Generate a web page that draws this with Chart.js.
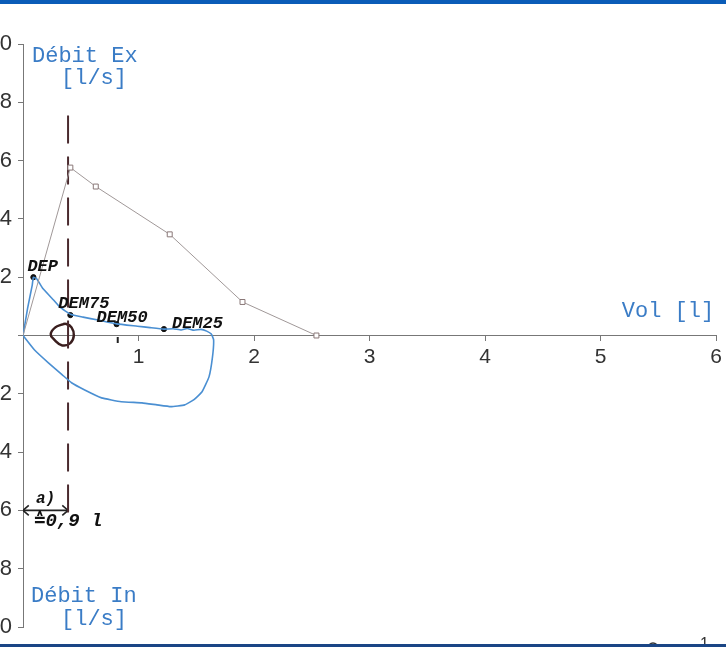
<!DOCTYPE html>
<html><head><meta charset="utf-8">
<script src="https://cdn.jsdelivr.net/npm/chart.js@4"></script>
<style>html,body{margin:0;padding:0;background:#fff;overflow:hidden}canvas{display:block}</style>
</head><body>
<canvas id="c" width="726" height="647"></canvas>
<script>
// Predicted expiratory curve (squares)
const predVol  = [0, 0.41, 0.63, 1.27, 1.90, 2.54];
const predFlow = [0, 5.76, 5.11, 3.47, 1.15, 0];

// Measured loop: expiration (positive flow) then inspiration (negative flow)
const expVol  = [0, 0.04, 0.08, 0.09, 0.12, 0.17, 0.25, 0.32, 0.41, 0.52, 0.65, 0.81, 0.99, 1.10, 1.22, 1.30, 1.37, 1.42, 1.48, 1.54, 1.59, 1.63];
const expFlow = [0, 0.94, 1.73, 2.00, 1.94, 1.62, 1.28, 0.97, 0.73, 0.63, 0.53, 0.40, 0.32, 0.27, 0.22, 0.23, 0.19, 0.24, 0.18, 0.21, 0.15, 0.05];
const inspVol  = [1.65, 1.64, 1.61, 1.55, 1.48, 1.40, 1.28, 1.16, 1.03, 0.85, 0.68, 0.53, 0.42, 0.34, 0.22, 0.10, 0];
const inspFlow = [-0.15, -0.74, -1.42, -1.93, -2.20, -2.38, -2.44, -2.38, -2.31, -2.27, -2.14, -1.86, -1.62, -1.35, -0.94, -0.50, 0];

// Marked points
const demLabels = ['DEP', 'DEM75', 'DEM50', 'DEM25'];
const demVol  = [0.09, 0.41, 0.81, 1.22];
const demFlow = [2.00, 0.70, 0.39, 0.22];

// Hand annotations
const markVol = 0.39;                 // dashed vertical line / arrow end
const markFlowTop = 7.55, markFlowBottom = -6.15;
const arrowFlow = -6;
const arrowText = '≙0,9 l';
const loopVol  = [0.34, 0.28, 0.24, 0.27, 0.34, 0.41, 0.44, 0.42, 0.37, 0.34];
const loopFlow = [0.38, 0.28, 0.05, -0.14, -0.34, -0.26, 0.00, 0.28, 0.40, 0.38];
const tickMarkVol = [0.82, 0.82];
const tickMarkFlow = [-0.05, -0.26];

// Axes
const xMin = 0, xMax = 6, xStep = 1;
const yMin = -10, yMax = 10, yStep = 2;

const pts = (xs, ys) => xs.map((x, i) => ({x: x, y: ys[i]}));

const annot = {
  id: 'annot',
  afterDatasetsDraw(chart) {
    const ctx = chart.ctx, xs = chart.scales.x, ys = chart.scales.y, ca = chart.chartArea;
    ctx.save();
    ctx.fillStyle = '#111';
    ctx.textAlign = 'left';
    ctx.textBaseline = 'alphabetic';
    ctx.font = 'italic bold 17px "Liberation Mono", monospace';
    const offs = [[-6, -6], [-12, -7], [-20, -2], [8, -1]];
    demLabels.forEach((t, i) => {
      const px = xs.getPixelForValue(demVol[i]), py = ys.getPixelForValue(demFlow[i]);
      ctx.fillText(t, px + offs[i][0], py + offs[i][1]);
    });
    // arrow annotation text
    const ay = ys.getPixelForValue(arrowFlow);
    ctx.font = 'italic bold 16px "Liberation Mono", monospace';
    ctx.fillText('a)', xs.getPixelForValue(0) + 13, ay - 7);
    ctx.font = 'italic bold 19px "Liberation Mono", "DejaVu Sans Mono", monospace';
    ctx.fillText(arrowText, xs.getPixelForValue(0) + 11, ay + 16);
    // axis titles
    ctx.fillStyle = '#3a7cc6';
    ctx.font = '22px "Liberation Mono", monospace';
    const x0 = ca.left;
    ctx.fillText('Débit Ex', x0 + 9, ys.getPixelForValue(yMax) + 18);
    ctx.fillText('[l/s]', x0 + 38, ys.getPixelForValue(yMax) + 40);
    ctx.fillText('Débit In', x0 + 8, ys.getPixelForValue(yMin) - 25);
    ctx.fillText('[l/s]', x0 + 38, ys.getPixelForValue(yMin) - 2);
    ctx.textAlign = 'right';
    ctx.fillText('Vol [l]', ca.right - 2, ys.getPixelForValue(0) - 19);
    ctx.restore();
  },
  afterDraw(chart) {
    const ctx = chart.ctx;
    ctx.save();
    // partially visible legend
    ctx.strokeStyle = '#8aa0c0'; ctx.lineWidth = 1;
    ctx.beginPath(); ctx.moveTo(638, 646); ctx.lineTo(668, 646); ctx.stroke();
    ctx.strokeStyle = '#333'; ctx.lineWidth = 1.5;
    ctx.beginPath(); ctx.arc(653, 648, 5, 0, Math.PI * 2); ctx.stroke();
    ctx.fillStyle = '#333'; ctx.font = '16px "Liberation Sans", sans-serif';
    ctx.textBaseline = 'top'; ctx.textAlign = 'left';
    ctx.fillText('1', 700, 637);
    // frame bars
    ctx.fillStyle = '#0a5cb8'; ctx.fillRect(0, 0, 726, 4);
    ctx.fillStyle = '#1a4585'; ctx.fillRect(0, 644, 726, 3);
    ctx.restore();
  }
};

const axisColor = '#777';
new Chart(document.getElementById('c'), {
  type: 'scatter',
  data: {
    datasets: [
      { data: pts(predVol, predFlow), showLine: true, borderColor: '#a09898', borderWidth: 1,
        pointStyle: 'rect', pointRadius: predVol.map((v, i) => i === 0 ? 0 : 3.5),
        pointBackgroundColor: '#fff', pointBorderColor: '#8a7878', pointBorderWidth: 1 },
      { data: pts(expVol.concat(inspVol), expFlow.concat(inspFlow)), showLine: true,
        borderColor: '#4a8fd2', borderWidth: 1.6, pointRadius: 0, tension: 0.12 },
      { data: pts([markVol, markVol], [markFlowTop, markFlowBottom]), showLine: true,
        borderColor: '#4a2a2e', borderWidth: 2, borderDash: [28, 13], pointRadius: 0 },
      { data: pts(loopVol, loopFlow), showLine: true, borderColor: '#3a1e1e', borderWidth: 2.5,
        pointRadius: 0, tension: 0.45 },
      { data: pts(tickMarkVol, tickMarkFlow), showLine: true, borderColor: '#222', borderWidth: 2, pointRadius: 0 },
      { data: pts([0, markVol], [arrowFlow, arrowFlow]), showLine: true, borderColor: '#222', borderWidth: 1.6, pointRadius: 0 },
      { data: pts([0.05, 0, 0.05], [arrowFlow + 0.17, arrowFlow, arrowFlow - 0.17]), showLine: true, borderColor: '#222', borderWidth: 1.6, pointRadius: 0 },
      { data: pts([markVol - 0.05, markVol, markVol - 0.05], [arrowFlow + 0.17, arrowFlow, arrowFlow - 0.17]), showLine: true, borderColor: '#222', borderWidth: 1.6, pointRadius: 0 },
      { data: pts(demVol, demFlow), showLine: false, pointRadius: 2.6, pointBackgroundColor: '#111', pointBorderColor: '#111' }
    ]
  },
  options: {
    responsive: false, animation: false,
    layout: { padding: { top: 44, bottom: 20, right: 6, left: 0 } },
    plugins: { legend: { display: false }, tooltip: { enabled: false } },
    scales: {
      x: { type: 'linear', min: xMin, max: xMax, position: { y: 0 },
        border: { color: axisColor, width: 1 },
        grid: { drawOnChartArea: false, drawTicks: true, tickLength: 5, color: axisColor },
        ticks: { stepSize: xStep, padding: 4, color: '#333', font: { family: '"Liberation Sans", sans-serif', size: 21 },
          callback: v => v === 0 ? '' : String(v), maxRotation: 0 } },
      y: { type: 'linear', min: yMin, max: yMax, position: 'left',
        afterFit(s) { s.width = 23; },
        border: { color: axisColor, width: 1 },
        grid: { drawOnChartArea: false, drawTicks: true, tickLength: 5, color: axisColor },
        ticks: { stepSize: yStep, padding: 6, color: '#333', font: { family: '"Liberation Sans", sans-serif', size: 22 },
          callback: v => v === 0 ? '' : String(v) } }
    }
  },
  plugins: [annot]
});
</script>
</body></html>
